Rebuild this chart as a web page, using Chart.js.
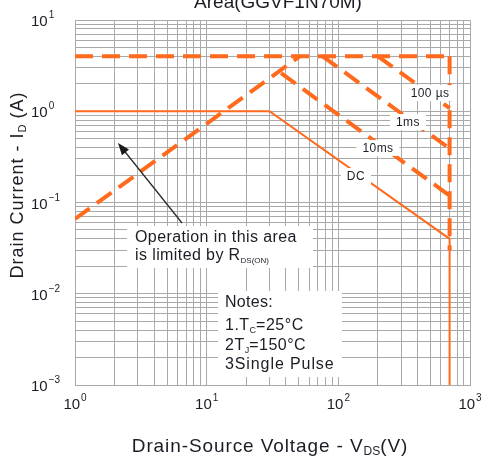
<!DOCTYPE html>
<html>
<head>
<meta charset="utf-8">
<script src="https://cdn.jsdelivr.net/npm/chart.js@4/dist/chart.umd.min.js"></script>
<style>
  html, body { margin: 0; padding: 0; background: #ffffff; }
  canvas { display: block; }
</style>
</head>
<body>
<canvas id="soa" width="485" height="461"></canvas>
<script>
const FONT = '"Liberation Sans", Arial, Helvetica, sans-serif';
const ORANGE = '#ff6a1c';
const GRID = '#a9a9a9';
const INK = '#1c1c26';

// decades shown on each axis (powers of ten)
const xExponents = [0, 1, 2, 3];
const yExponents = [1, 0, -1, -2, -3];

// limit lines: drain-source voltage (V) / drain current (A)
const rdsOnV = [1, 51];
const rdsOnI = [0.066, 4];
const idPulseV = [1, 700];
const idPulseI = [4, 4];
const t100usV = [200, 700];
const t100usI = [4, 1.08];
const t1msV = [76, 700];
const t1msI = [4, 0.39];
const t10msV = [36.7, 700];
const t10msI = [2.62, 0.119];
const bvdssV = [700, 700];
const bvdssI = [4, 0.03];
const dcV = [1, 30, 700, 700];
const dcI = [1, 1, 0.04, 0.001];

// curve labels: text, voltage, current
const curveLabels = [
  ['100 µs', 497, 1.58],
  ['1ms', 338, 0.762],
  ['10ms', 200, 0.396],
  ['DC', 136, 0.195]
];

const pts = (vs, is) => vs.map((v, i) => ({ x: v, y: is[i] }));

const dashed = (label, vs, is) => ({
  label, data: pts(vs, is), showLine: true, pointRadius: 0,
  borderColor: ORANGE, borderWidth: 4, borderDash: [18, 9], fill: false
});

function logTicks(scale) {
  const lo = Math.round(Math.log10(scale.min));
  const hi = Math.round(Math.log10(scale.max));
  const t = [];
  for (let e = lo; e <= hi; e++) {
    for (let m = 1; m <= 9; m++) {
      const v = Number((m * Math.pow(10, e)).toPrecision(8));
      if (v <= scale.max * 1.0000001) t.push({ value: v });
    }
  }
  scale.ticks = t;
}

// text made of runs with their own size, spacing and vertical shift
function drawRuns(ctx, runs, x, y, align) {
  let total = 0;
  const setRun = r => {
    ctx.font = r.size + 'px ' + FONT;
    ctx.letterSpacing = (r.ls || 0) + 'px';
  };
  runs.forEach(r => { setRun(r); r.w = ctx.measureText(r.t).width; total += r.w; });
  let cx = align === 'center' ? x - total / 2 : (align === 'right' ? x - total : x);
  ctx.textAlign = 'left';
  ctx.textBaseline = 'alphabetic';
  runs.forEach(r => {
    setRun(r);
    ctx.fillText(r.t, cx, y + (r.dy || 0));
    cx += r.w;
  });
  ctx.letterSpacing = '0px';
  return total;
}

const decorations = {
  id: 'decorations',
  afterDatasetsDraw(chart) {
    const ctx = chart.ctx;
    const xs = chart.scales.x, ys = chart.scales.y;
    const a = chart.chartArea;
    ctx.save();
    ctx.fillStyle = INK;

    // boxed curve labels
    curveLabels.forEach(([t, v, i]) => {
      const px = xs.getPixelForValue(v), py = ys.getPixelForValue(i);
      ctx.font = '12px ' + FONT;
      ctx.letterSpacing = '0.4px';
      const w = ctx.measureText(t).width;
      ctx.fillStyle = '#ffffff';
      ctx.fillRect(px - w / 2 - 6, py - 8, w + 12, 16);
      ctx.fillStyle = INK;
      ctx.textAlign = 'center';
      ctx.textBaseline = 'middle';
      ctx.fillText(t, px, py + 1);
      ctx.letterSpacing = '0px';
    });

    // R_DS(on) note
    const ox = a.left + 52, oy = a.top + 206;
    ctx.fillStyle = '#ffffff';
    ctx.fillRect(ox, oy, 186, 42);
    ctx.fillStyle = INK;
    drawRuns(ctx, [{ t: 'Operation in this area', size: 16, ls: 0.4 }], ox + 8, oy + 16, 'left');
    drawRuns(ctx, [{ t: 'is limited by R', size: 16, ls: 0.4 }, { t: 'DS(ON)', size: 8, dy: 3 }], ox + 8, oy + 34, 'left');

    // arrow towards the R_DS(on) region
    const x0 = 182, y0 = 223, x1 = 118, y1 = 143;
    const ang = Math.atan2(y1 - y0, x1 - x0);
    ctx.strokeStyle = '#2a2a2a';
    ctx.lineWidth = 1.3;
    ctx.beginPath();
    ctx.moveTo(x0, y0);
    ctx.lineTo(x1 - 8 * Math.cos(ang), y1 - 8 * Math.sin(ang));
    ctx.stroke();
    ctx.fillStyle = '#1a1a1a';
    ctx.beginPath();
    ctx.moveTo(x1, y1);
    ctx.lineTo(x1 - 12 * Math.cos(ang) + 4.5 * Math.sin(ang), y1 - 12 * Math.sin(ang) - 4.5 * Math.cos(ang));
    ctx.lineTo(x1 - 12 * Math.cos(ang) - 4.5 * Math.sin(ang), y1 - 12 * Math.sin(ang) + 4.5 * Math.cos(ang));
    ctx.closePath();
    ctx.fill();

    // test conditions
    const nx = a.left + 143, ny = a.top + 271;
    ctx.fillStyle = '#ffffff';
    ctx.fillRect(nx, ny, 124, 86);
    ctx.fillStyle = INK;
    drawRuns(ctx, [{ t: 'Notes:', size: 16, ls: 0.3 }], nx + 7, ny + 16, 'left');
    drawRuns(ctx, [{ t: '1.T', size: 16, ls: 0.5 }, { t: 'C', size: 9, dy: 3 }, { t: '=25°C', size: 16, ls: 0.5 }], nx + 7, ny + 39, 'left');
    drawRuns(ctx, [{ t: '2T', size: 16, ls: 0.5 }, { t: 'J', size: 9, dy: 3 }, { t: '=150°C', size: 16, ls: 0.5 }], nx + 7, ny + 59, 'left');
    drawRuns(ctx, [{ t: '3Single Pulse', size: 16, ls: 0.9 }], nx + 7, ny + 78, 'left');

    ctx.restore();
  },
  afterDraw(chart) {
    const ctx = chart.ctx;
    const xs = chart.scales.x, ys = chart.scales.y;
    ctx.save();
    ctx.fillStyle = INK;

    // tick labels as powers of ten
    xExponents.forEach(e => {
      const px = xs.getPixelForValue(Math.pow(10, e));
      ctx.font = '15px ' + FONT;
      const w1 = ctx.measureText('10').width;
      ctx.font = '10px ' + FONT;
      const w2 = ctx.measureText(String(e)).width;
      const left = px - (w1 + w2 + 1) / 2;
      drawRuns(ctx, [{ t: '10', size: 15 }], left, 409, 'left');
      drawRuns(ctx, [{ t: String(e), size: 10 }], left + w1 + 1, 401, 'left');
    });
    yExponents.forEach(e => {
      const py = ys.getPixelForValue(Math.pow(10, e));
      ctx.font = '15px ' + FONT;
      const w1 = ctx.measureText('10').width;
      drawRuns(ctx, [{ t: '10', size: 15 }], 31, py + 6, 'left');
      drawRuns(ctx, [{ t: String(e).replace('-', '\u2212'), size: 10 }], 31 + w1 + 1, py - 2, 'left');
    });

    // axis titles
    drawRuns(ctx, [{ t: 'Drain-Source Voltage - V', size: 19, ls: 0.9 }, { t: 'DS', size: 12, dy: 3 }, { t: '(V)', size: 19, ls: 0.9 }], 270, 452, 'center');
    ctx.translate(23, 185);
    ctx.rotate(-Math.PI / 2);
    drawRuns(ctx, [{ t: 'Drain Current - I', size: 18, ls: 1 }, { t: 'D', size: 11, dy: 3 }, { t: ' (A)', size: 18, ls: 1 }], 0, 0, 'center');
    ctx.setTransform(1, 0, 0, 1, 0, 0);

    // chart heading, partly above the top edge
    drawRuns(ctx, [{ t: 'Area(GGVF1N70M)', size: 19 }], 278, 8, 'center');
    ctx.restore();
  }
};

new Chart(document.getElementById('soa'), {
  type: 'scatter',
  data: {
    datasets: [
      dashed('RDS(on) limit', rdsOnV, rdsOnI),
      dashed('ID pulse limit', idPulseV, idPulseI),
      dashed('100 µs', t100usV, t100usI),
      dashed('1 ms', t1msV, t1msI),
      dashed('10 ms', t10msV, t10msI),
      dashed('BVDSS', bvdssV, bvdssI),
      { label: 'DC', data: pts(dcV, dcI), showLine: true, pointRadius: 0,
        borderColor: ORANGE, borderWidth: 2, fill: false }
    ]
  },
  options: {
    responsive: false,
    animation: false,
    devicePixelRatio: 1,
    layout: { padding: { left: 75, right: 15, top: 20, bottom: 76 } },
    plugins: { legend: { display: false }, tooltip: { enabled: false }, title: { display: false } },
    scales: {
      x: {
        type: 'logarithmic', min: 1, max: 1000,
        afterBuildTicks: logTicks,
        ticks: { display: false },
        grid: { color: GRID, lineWidth: 1, drawTicks: false },
        border: { color: GRID, width: 1 }
      },
      y: {
        type: 'logarithmic', min: 0.001, max: 10,
        afterBuildTicks: logTicks,
        ticks: { display: false },
        grid: { color: GRID, lineWidth: 1, drawTicks: false },
        border: { color: GRID, width: 1 }
      }
    }
  },
  plugins: [decorations]
});
</script>
</body>
</html>
